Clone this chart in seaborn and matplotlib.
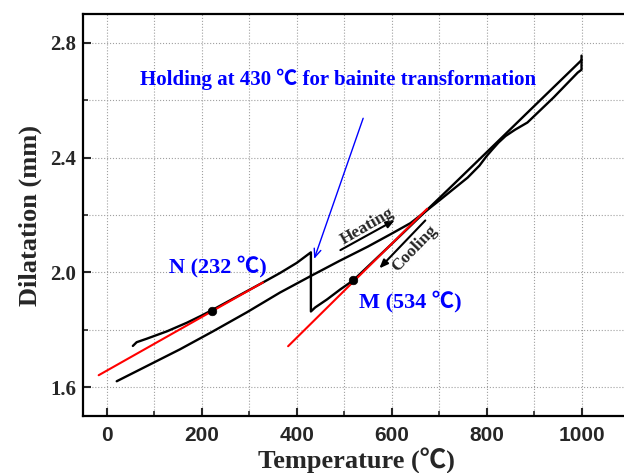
import numpy as np
import pandas as pd
import matplotlib
matplotlib.use("Agg")
import matplotlib.pyplot as plt
import seaborn as sns
from matplotlib.ticker import MultipleLocator

# --- data (temperature in C, dilatation in mm) ---
# heating: room temperature up to 1000 C
heat_T = [21, 154, 224, 295, 365, 428, 490, 550, 600, 640, 671, 730, 823, 892, 998, 1000]
heat_D = [1.621, 1.732, 1.795, 1.861, 1.930, 1.986, 2.040, 2.090, 2.135, 2.172, 2.212,
          2.306, 2.455, 2.566, 2.736, 2.740]

# cooling: 1000 C -> 430 C, isothermal holding at 430 C, then down to ~55 C
cool_T = [1000, 1000, 992, 941, 886, 860, 840, 825, 812, 800, 785, 760, 730, 700, 671,
          600, 519, 492, 464, 439, 430, 430, 400, 365, 329, 280, 221, 200, 169, 127,
          84, 63, 55]
cool_D = [2.755, 2.706, 2.696, 2.609, 2.522, 2.497, 2.475, 2.452, 2.428, 2.405, 2.372,
          2.330, 2.290, 2.250, 2.212, 2.099, 1.972, 1.941, 1.906, 1.878, 1.864, 2.070,
          2.033, 1.998, 1.965, 1.921, 1.868, 1.850, 1.825, 1.795, 1.769, 1.757, 1.744]

# tangent lines (red)
tanN_T = [-17, 329]
tanN_D = [1.642, 1.965]
tanM_T = [382, 675]
tanM_D = [1.743, 2.222]

# marked points
pts_T = [221, 519]
pts_D = [1.866, 1.972]

x_ticks = [0, 200, 400, 600, 800, 1000]
y_ticks = [1.6, 2.0, 2.4, 2.8]

sns.set_style("ticks")
plt.rcParams["font.family"] = ["Liberation Serif", "Noto Sans CJK SC", "DejaVu Sans"]
plt.rcParams["font.weight"] = "bold"

fig = plt.figure(figsize=(6.24, 4.73), dpi=100)
# right spine sits just outside the picture, as in the original
ax = fig.add_axes([83 / 624, 57 / 473, 546 / 624, 402 / 473])

heat_df = pd.DataFrame({"T": heat_T, "D": heat_D})
cool_df = pd.DataFrame({"T": cool_T, "D": cool_D})
sns.lineplot(data=heat_df, x="T", y="D", sort=False, estimator=None,
             color="black", lw=1.7, ax=ax)
sns.lineplot(data=cool_df, x="T", y="D", sort=False, estimator=None,
             color="black", lw=1.7, ax=ax)
sns.lineplot(x=tanN_T, y=tanN_D, sort=False, estimator=None, color="#ff0000", lw=1.5, ax=ax)
sns.lineplot(x=tanM_T, y=tanM_D, sort=False, estimator=None, color="#ff0000", lw=1.5, ax=ax)
sns.scatterplot(x=pts_T, y=pts_D, color="black", s=38, edgecolor="black", zorder=5, ax=ax)

ax.set_xlim(-50, 1100)
ax.set_ylim(1.5, 2.9)

ax.set_xticks(x_ticks)
ax.set_xticklabels([str(t) for t in x_ticks], fontfamily="Liberation Sans",
                   fontweight="bold", fontsize=15)
ax.set_yticks(y_ticks)
ax.set_yticklabels([f"{t:.1f}" for t in y_ticks], fontweight="bold", fontsize=15)
ax.xaxis.set_minor_locator(MultipleLocator(100))
ax.yaxis.set_minor_locator(MultipleLocator(0.2))
ax.tick_params(which="major", direction="in", length=6, width=1.5, pad=7)
ax.tick_params(axis="y", which="major", pad=5)
ax.tick_params(which="minor", direction="in", length=3.5, width=1.2)
ax.grid(True, which="both", ls=":", color="#a0a0a0", lw=0.8)

for s in ax.spines.values():
    s.set_linewidth(1.6)
    s.set_color("black")

ax.set_xlabel("Temperature (℃)", fontsize=19, fontweight="bold", labelpad=2)
ax.set_ylabel("Dilatation (mm)", fontsize=19, fontweight="bold", labelpad=6)

# annotations
ax.text(488, 2.671, "Holding at 430 ℃ for bainite transformation", color="#0000ff",
        fontsize=15, fontweight="bold", ha="center", va="center")
ax.annotate("", xy=(435, 2.038), xytext=(542, 2.546),
            arrowprops=dict(arrowstyle="->,head_length=0.6,head_width=0.25",
                            color="#0000ff", lw=1.0))
ax.text(235, 2.021, "N (232 ℃)", color="#0000ff", fontsize=16, fontweight="bold",
        ha="center", va="center")
ax.text(639, 1.899, "M (534 ℃)", color="#0000ff", fontsize=16, fontweight="bold",
        ha="center", va="center")

ax.annotate("", xy=(612, 2.187), xytext=(487, 2.073),
            arrowprops=dict(arrowstyle="-|>,head_length=0.5,head_width=0.2",
                            color="black", lw=1.5))
ax.text(549, 2.160, "Heating", fontsize=12.5, fontweight="bold", rotation=30,
        ha="center", va="center")
ax.annotate("", xy=(570, 2.007), xytext=(675, 2.188),
            arrowprops=dict(arrowstyle="-|>,head_length=0.5,head_width=0.2",
                            color="black", lw=1.5))
ax.text(648, 2.083, "Cooling", fontsize=12.5, fontweight="bold", rotation=46,
        ha="center", va="center")

fig.savefig("out.png", dpi=100)
